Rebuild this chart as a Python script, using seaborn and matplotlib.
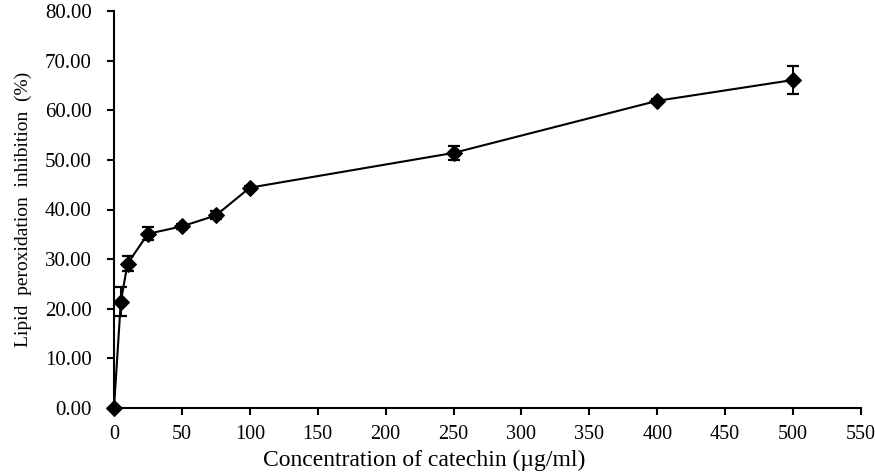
import matplotlib
matplotlib.use("Agg")
import matplotlib.pyplot as plt
import seaborn as sns
import pandas as pd

concentration = [0, 5, 10, 25, 50, 75, 100, 250, 400, 500]
inhibition = [0.0, 21.4, 29.1, 35.1, 36.6, 38.8, 44.4, 51.4, 61.9, 66.1]
error = [0.0, 2.95, 1.55, 1.3, 0.45, 0.8, 0.3, 1.35, 0.3, 2.9]
x_ticks = list(range(0, 551, 50))
y_ticks = list(range(0, 81, 10))

df = pd.DataFrame({"conc": concentration, "inh": inhibition, "err": error})

sns.set_theme(style="ticks")
plt.rcParams["font.family"] = ["Liberation Serif", "DejaVu Serif"]

fig = plt.figure(figsize=(8.75, 4.76), dpi=100)
ax = fig.add_axes([114/875, 1-408/476, (861-114)/875, (408-11)/476])

ax.errorbar(df["conc"], df["inh"], yerr=df["err"], fmt="none", ecolor="black",
            elinewidth=1.4, capsize=4.6, capthick=1.6, zorder=2)
sns.lineplot(data=df, x="conc", y="inh", ax=ax, color="black", linewidth=1.5,
             marker="D", markersize=8.5, markeredgecolor="black",
             markerfacecolor="black", zorder=3, clip_on=False)

ax.set_xlim(0, 550)
ax.set_ylim(0, 80)
ax.set_xticks(x_ticks)
ax.set_yticks(y_ticks)
ax.set_yticklabels([f"{v:.2f}" for v in y_ticks])
ax.set_xticklabels([str(v) for v in x_ticks])
for s in ["top", "right"]:
    ax.spines[s].set_visible(False)
for s in ["left", "bottom"]:
    ax.spines[s].set_linewidth(1.5)
    ax.spines[s].set_color("black")
ax.tick_params(axis="both", direction="out", length=5, width=1.5, colors="black",
               labelsize=15, labelcolor="black")
ax.tick_params(axis="x", pad=7, labelsize=14.5)
ax.tick_params(axis="y", pad=11)
ax.set_xlabel("Concentration of catechin (µg/ml)", fontsize=17, color="black")
ax.set_ylabel("Lipid  peroxidation  inhibition  (%)", fontsize=14, color="black")
ax.xaxis.set_label_coords(0.415, (408-450)/397)
ax.yaxis.set_label_coords((32-114)/747, 0.5)
ax.grid(False)

fig.savefig("out.png", dpi=100)
